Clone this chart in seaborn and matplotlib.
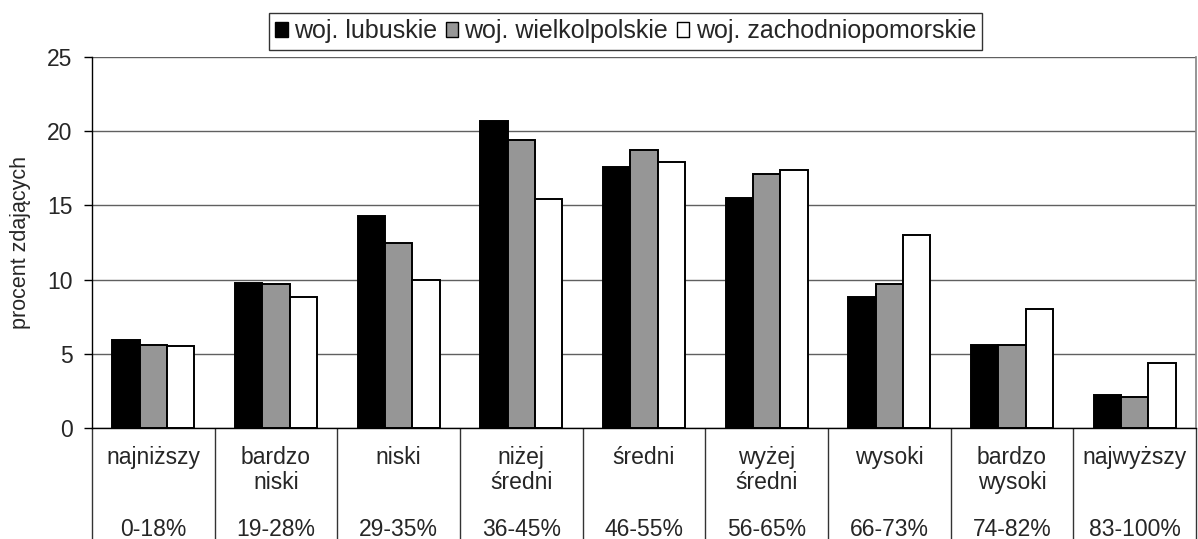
import numpy as np
import pandas as pd
import matplotlib
matplotlib.use("Agg")
import matplotlib.pyplot as plt
import seaborn as sns
from matplotlib.patches import Patch

categories = ["najniższy", "bardzo\nniski", "niski", "niżej\nśredni", "średni",
              "wyżej\nśredni", "wysoki", "bardzo\nwysoki", "najwyższy"]
ranges = ["0-18%", "19-28%", "29-35%", "36-45%", "46-55%", "56-65%", "66-73%", "74-82%", "83-100%"]
series_names = ["woj. lubuskie", "woj. wielkolpolskie", "woj. zachodniopomorskie"]
lubuskie = [5.9, 9.8, 14.3, 20.7, 17.6, 15.5, 8.8, 5.6, 2.2]
wielkopolskie = [5.6, 9.7, 12.5, 19.4, 18.7, 17.1, 9.7, 5.6, 2.1]
zachodniopomorskie = [5.5, 8.8, 10.0, 15.4, 17.9, 17.4, 13.0, 8.0, 4.4]
y_ticks = [0, 5, 10, 15, 20, 25]
colors = ["#000000", "#969696", "#ffffff"]

sns.set_theme(style="white")
plt.rcParams["font.family"] = ["Liberation Sans", "DejaVu Sans"]

FS = 16.5

df = pd.DataFrame({
    "cat": categories * 3,
    "val": lubuskie + wielkopolskie + zachodniopomorskie,
    "region": [series_names[0]] * 9 + [series_names[1]] * 9 + [series_names[2]] * 9,
})

W, H = 1198, 539
fig = plt.figure(figsize=(W / 100, H / 100), dpi=100)
ax = fig.add_axes([92 / W, (H - 428) / H, (1196 - 92) / W, (428 - 57) / H])

sns.barplot(data=df, x="cat", y="val", hue="region", order=categories,
            hue_order=series_names, palette=colors, edgecolor="black",
            linewidth=1.4, width=0.667, ax=ax, legend=False, errorbar=None)

ax.set_ylim(0, 25)
ax.set_xlim(-0.5, len(categories) - 0.5)
ax.set_yticks(y_ticks)
ax.set_yticklabels([str(t) for t in y_ticks], fontsize=FS)
ax.yaxis.grid(True, color="#606060", linewidth=1)
ax.set_axisbelow(True)

ax.spines["top"].set_visible(False)
ax.spines["right"].set_color("#888888")
ax.spines["left"].set_color("black")
ax.spines["bottom"].set_color("black")
ax.spines["left"].set_linewidth(1)
ax.spines["bottom"].set_linewidth(1)

ax.tick_params(axis="y", direction="out", length=6, width=1, color="black", pad=8, left=True)

# category labels as x tick labels
ax.set_xticks(range(len(categories)))
ax.set_xticklabels(categories, fontsize=FS, linespacing=1.12)
ax.tick_params(axis="x", which="major", length=0, pad=13)
# boundaries of the table
ax.set_xticks(np.arange(-0.5, len(categories), 1.0), minor=True)
ax.tick_params(axis="x", which="minor", direction="out", length=80, width=1,
               color="#333333", bottom=True)

for i, r in enumerate(ranges):
    ax.text(i, -101 / 371, r, transform=ax.get_xaxis_transform(), ha="center",
            va="center", fontsize=FS)

ax.set_xlabel("")
ax.set_ylabel("procent zdających", fontsize=15.5)
ax.yaxis.set_label_coords(-0.055, 0.5)

handles = [Patch(facecolor=c, edgecolor="black", linewidth=1) for c in colors]
leg = fig.legend(handles, series_names, loc="upper center", ncol=3,
                 bbox_to_anchor=(625.5 / W, 1 - 13 / H), fontsize=18,
                 frameon=True, fancybox=False, handlelength=0.5, handleheight=0.5,
                 handletextpad=0.25, columnspacing=0.35, borderpad=0.25,
                 borderaxespad=0)
leg.get_frame().set_edgecolor("black")
leg.get_frame().set_linewidth(1)

fig.savefig("out.png", dpi=100)
